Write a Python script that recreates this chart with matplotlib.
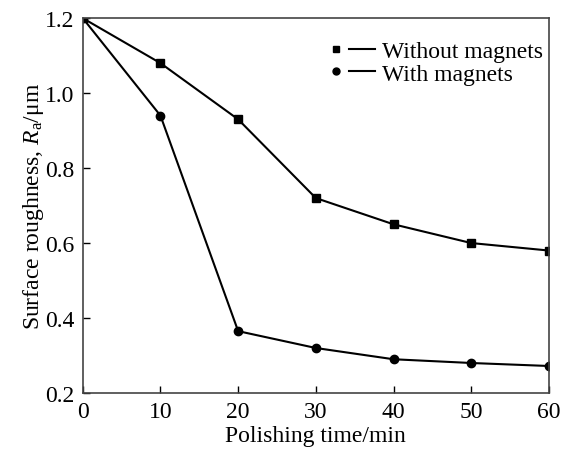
import matplotlib.pyplot as plt
from matplotlib.lines import Line2D
from matplotlib.legend_handler import HandlerTuple

plt.rcParams['font.family'] = ['Liberation Serif', 'DejaVu Serif']
plt.rcParams['mathtext.fontset'] = 'custom'
plt.rcParams['mathtext.it'] = 'Liberation Serif:italic'
plt.rcParams['mathtext.rm'] = 'Liberation Serif'

# Dados
tempo = [0, 10, 20, 30, 40, 50, 60]
sem_ima = [1.2, 1.08, 0.93, 0.72, 0.65, 0.60, 0.58]
com_ima = [1.2, 0.94, 0.365, 0.32, 0.29, 0.28, 0.272]

fig = plt.figure(figsize=(5.63, 4.56), dpi=100)
ax = fig.add_axes([0.147, 0.136, 0.828, 0.822])

ax.plot(tempo, sem_ima, color='black', lw=1.5, marker='s', ms=6)
ax.plot(tempo, com_ima, color='black', lw=1.5, marker='o', ms=6)

ax.set_xlim(0, 60)
ax.set_ylim(0.2, 1.2)
ax.set_xticks(range(0, 61, 10))
ax.set_yticks([0.2, 0.4, 0.6, 0.8, 1.0, 1.2])
ax.tick_params(direction='in', labelsize=17, length=5, width=1, pad=6)
for s in ax.spines.values():
    s.set_linewidth(1.2)
    s.set_color('#444444')

ax.set_xlabel('Polishing time/min', fontsize=17, labelpad=2)
ax.set_ylabel(r'Surface roughness, $R_{\rm a}$/μm', fontsize=17, labelpad=-1)

# Legenda: marcador seguido de linha
h1 = (Line2D([], [], color='black', marker='s', ms=5, ls='none'),
      Line2D([], [], color='black', lw=1.5))
h2 = (Line2D([], [], color='black', marker='o', ms=5, ls='none'),
      Line2D([], [], color='black', lw=1.5))
ax.legend([h1, h2], ['Without magnets', 'With magnets'],
          handler_map={tuple: HandlerTuple(ndivide=None, pad=0.0)},
          loc='upper right', bbox_to_anchor=(1.023, 0.985), frameon=False,
          fontsize=17, handlelength=2.2, handletextpad=0.3,
          labelspacing=0.05, borderaxespad=0.3)

fig.savefig('out.png', dpi=100)
